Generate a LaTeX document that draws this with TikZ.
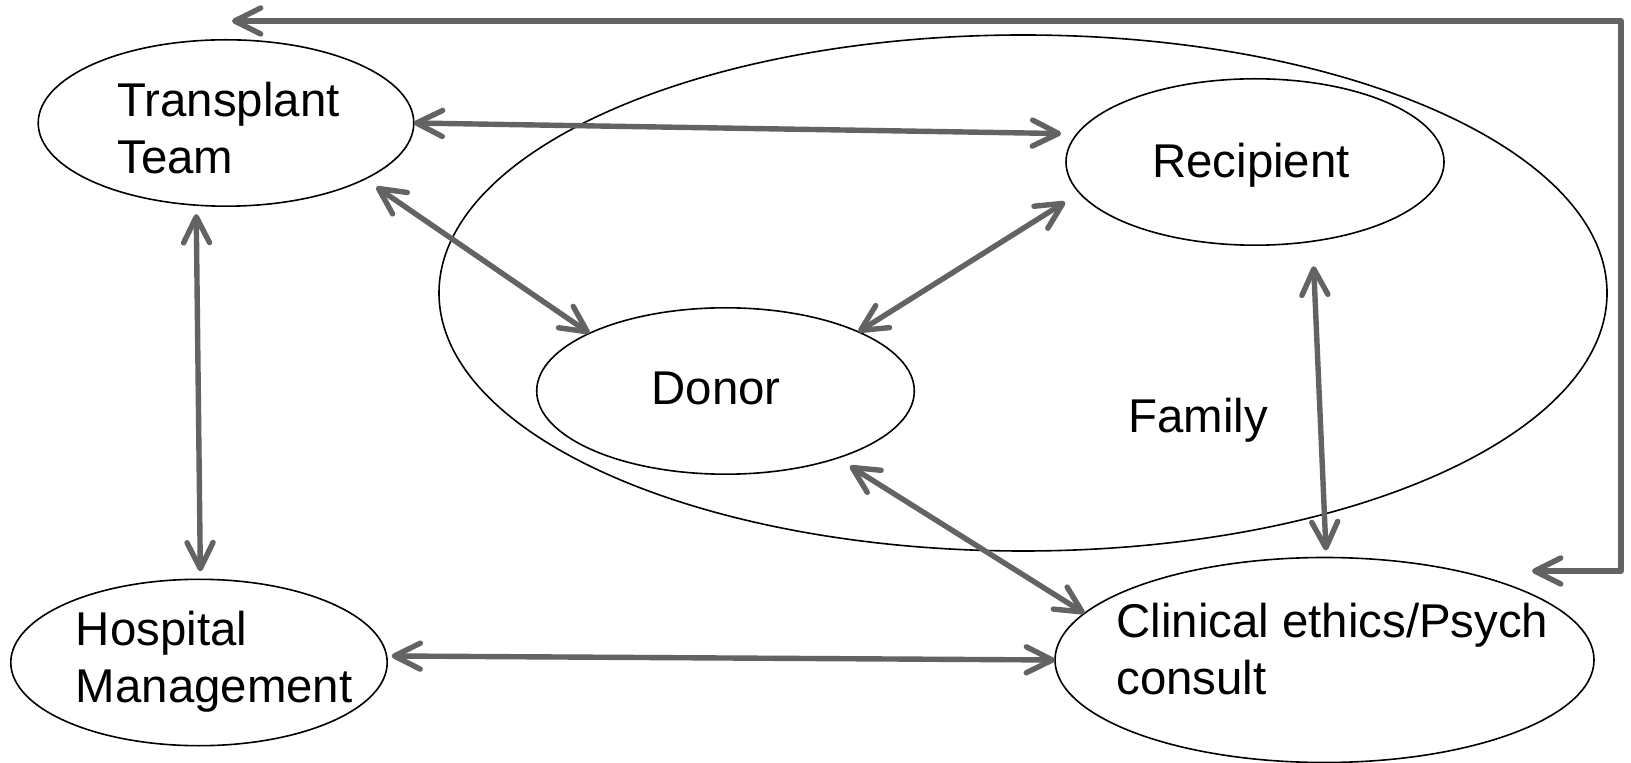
\documentclass[tikz,border=0pt]{standalone}
\usepackage{fontspec}
\setmainfont{Liberation Sans}
\usepackage{tikz}
\usetikzlibrary{shapes.geometric,arrows.meta}

\definecolor{linkgray}{RGB}{99,99,99}

\begin{document}
\begin{tikzpicture}[x=0.5pt,y=-0.5pt,
    oval/.style={draw, ellipse, line width=0.8pt, inner sep=0pt, outer sep=0pt,
        minimum width=189pt, minimum height=83.2pt},
    lbl/.style={inner sep=0pt, align=left, font=\fontsize{23.7pt}{28.4pt}\selectfont},
    tip/.tip={Straight Barb[length=13pt,width=13pt,round]},
    link/.style={draw=linkgray, line width=2.7pt, line join=round, tip-tip}]

\useasboundingbox (0,0) rectangle (1631,763);

% family circle
\node[oval, minimum width=584pt, minimum height=258pt] (fam) at (1023,293) {};

% parties
\node[oval, minimum width=187.8pt] (tt) at (226,123) {};
\node[oval] (rc) at (1255,162) {};
\node[oval, minimum width=188.8pt] (dn) at (725.5,391) {};
\node[oval, minimum width=188.2pt] (hm) at (199,662.5) {};
\node[oval, minimum width=269.5pt, minimum height=102.5pt] (cl) at (1324.5,660) {};

% labels (base = last line)
\node[lbl, anchor=base west] (ttText) at (117,173.3) {Transplant\\Team};
\node[lbl, anchor=base] (rcText) at (1251,178) {Recipient};
\node[lbl, anchor=base] (dnText) at (716,405) {Donor};
\node[lbl, anchor=base west] (famText) at (1128,432.7) {Family};
\node[lbl, anchor=base west] (hmText) at (75.5,702) {Hospital\\Management};
\node[lbl, anchor=base west] (clText) at (1116,694) {Clinical ethics/Psych\\consult};

% two-way links
\foreach \from/\to/\sa/\sb in {tt.0/rc.171/0/8, tt.338/dn.157/7/0, rc.190/dn.24/8.5/0,
    tt.250/hm.89/4.5/4, rc.306/cl.89/12.5/3.5, dn.329/cl.169/7.5/0, hm.2/cl.180/2.5/0}
{
    \draw[link, shorten <=\sa pt, shorten >=\sb pt] (\from) -- (\to);
}

% feedback loop round the top
\coordinate (fbTop) at (232,21);
\coordinate (fbCorner) at (1621,21);
\coordinate (fbEnd) at (1532,571);
\draw[link] (fbTop) -- (fbCorner) |- (fbEnd);

\end{tikzpicture}
\end{document}
